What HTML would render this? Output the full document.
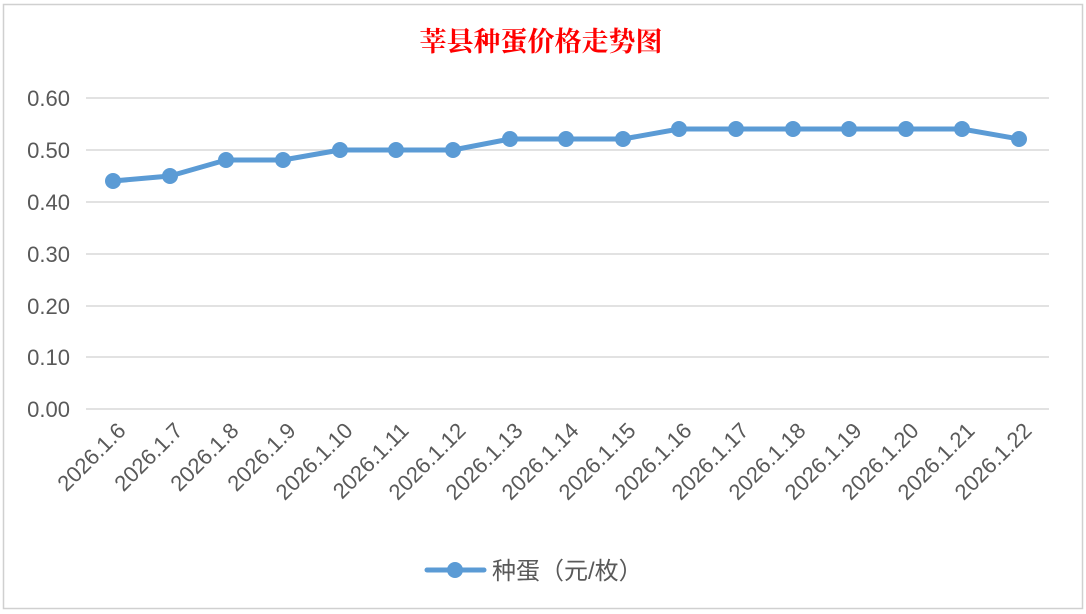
<!DOCTYPE html>
<html><head><meta charset="utf-8"><style>body{margin:0;background:#fff}svg{display:block}</style></head><body>
<svg width="1086" height="614" viewBox="0 0 1086 614" xmlns="http://www.w3.org/2000/svg" font-family="Liberation Sans, Noto Sans CJK SC, sans-serif">
<rect x="0" y="0" width="1086" height="614" fill="#fff"/>
<rect x="3.5" y="4.5" width="1079" height="604" fill="#fff" stroke="#d0d0d0" stroke-width="1.5"/>
<text x="541" y="51" text-anchor="middle" fill="#ff0000" font-size="27" font-weight="bold" font-family="Liberation Serif, Noto Serif CJK SC, serif">莘县种蛋价格走势图</text>
<g stroke="#d9d9d9" stroke-width="1.5">
<line x1="86" x2="1049" y1="98" y2="98"/><line x1="86" x2="1049" y1="150" y2="150"/><line x1="86" x2="1049" y1="202" y2="202"/><line x1="86" x2="1049" y1="254" y2="254"/><line x1="86" x2="1049" y1="306" y2="306"/><line x1="86" x2="1049" y1="357" y2="357"/><line x1="86" x2="1049" y1="409" y2="409"/>
</g>
<g fill="#595959" font-size="22" text-anchor="end">
<text x="70" y="106">0.60</text><text x="70" y="158">0.50</text><text x="70" y="210">0.40</text><text x="70" y="262">0.30</text><text x="70" y="314">0.20</text><text x="70" y="365">0.10</text><text x="70" y="417">0.00</text>
</g>
<polyline fill="none" stroke="#5b9bd5" stroke-width="5" stroke-linejoin="round" points="113,181 170,176 226,160 283,160 340,150 396,150 453,150 510,139 566,139 623,139 679,129 736,129 793,129 849,129 906,129 962,129 1019,139"/>
<g fill="#5b9bd5">
<circle cx="113" cy="181" r="8"/><circle cx="170" cy="176" r="8"/><circle cx="226" cy="160" r="8"/><circle cx="283" cy="160" r="8"/><circle cx="340" cy="150" r="8"/><circle cx="396" cy="150" r="8"/><circle cx="453" cy="150" r="8"/><circle cx="510" cy="139" r="8"/><circle cx="566" cy="139" r="8"/><circle cx="623" cy="139" r="8"/><circle cx="679" cy="129" r="8"/><circle cx="736" cy="129" r="8"/><circle cx="793" cy="129" r="8"/><circle cx="849" cy="129" r="8"/><circle cx="906" cy="129" r="8"/><circle cx="962" cy="129" r="8"/><circle cx="1019" cy="139" r="8"/>
</g>
<g fill="#595959" font-size="22" text-anchor="end">
<text transform="translate(127,432) rotate(-45)">2026.1.6</text>
<text transform="translate(184,432) rotate(-45)">2026.1.7</text>
<text transform="translate(240,432) rotate(-45)">2026.1.8</text>
<text transform="translate(297,432) rotate(-45)">2026.1.9</text>
<text transform="translate(354,432) rotate(-45)">2026.1.10</text>
<text transform="translate(410,432) rotate(-45)">2026.1.11</text>
<text transform="translate(467,432) rotate(-45)">2026.1.12</text>
<text transform="translate(524,432) rotate(-45)">2026.1.13</text>
<text transform="translate(580,432) rotate(-45)">2026.1.14</text>
<text transform="translate(637,432) rotate(-45)">2026.1.15</text>
<text transform="translate(693,432) rotate(-45)">2026.1.16</text>
<text transform="translate(750,432) rotate(-45)">2026.1.17</text>
<text transform="translate(807,432) rotate(-45)">2026.1.18</text>
<text transform="translate(863,432) rotate(-45)">2026.1.19</text>
<text transform="translate(920,432) rotate(-45)">2026.1.20</text>
<text transform="translate(976,432) rotate(-45)">2026.1.21</text>
<text transform="translate(1033,432) rotate(-45)">2026.1.22</text>
</g>
<line x1="427" x2="484" y1="570" y2="570" stroke="#5b9bd5" stroke-width="5" stroke-linecap="round"/>
<circle cx="455" cy="570" r="8" fill="#5b9bd5"/>
<text x="492" y="579" fill="#595959" font-size="24">种蛋（元/枚）</text>
</svg>
</body></html>
